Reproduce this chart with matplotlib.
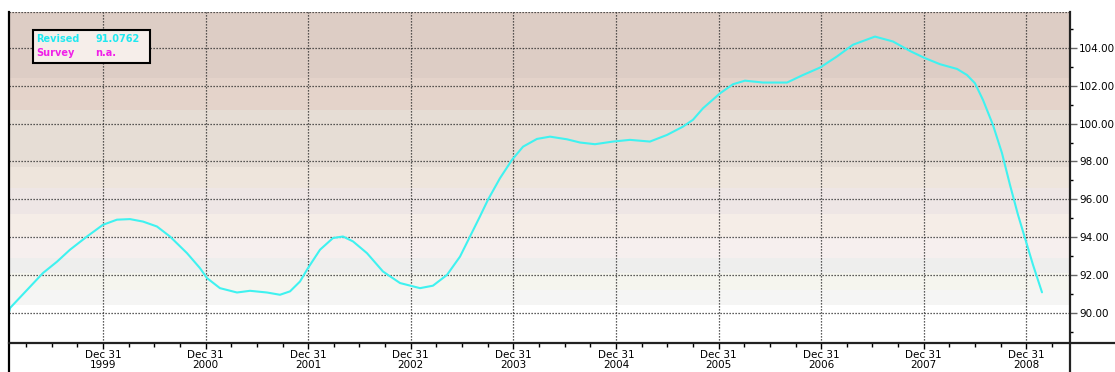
import matplotlib.pyplot as plt
from matplotlib.lines import Line2D
from matplotlib.patches import Rectangle

# Revised series, decimal years (Dec 31 of year Y sits at Y+1.0)
dates = [1999.085, 1999.094, 1999.259, 1999.415, 1999.552, 1999.678, 1999.844, 2000.000,
         2000.136, 2000.263, 2000.390, 2000.526, 2000.653, 2000.819, 2000.945, 2001.014,
         2001.140, 2001.306, 2001.433, 2001.598, 2001.725, 2001.823, 2001.920, 2001.998,
         2002.115, 2002.242, 2002.339, 2002.437, 2002.573, 2002.729, 2002.895, 2003.090,
         2003.216, 2003.353, 2003.480, 2003.577, 2003.674, 2003.752, 2003.869, 2003.986,
         2004.094, 2004.230, 2004.357, 2004.522, 2004.649, 2004.795, 2004.971, 2005.136,
         2005.331, 2005.497, 2005.653, 2005.750, 2005.848, 2006.014, 2006.140, 2006.257,
         2006.433, 2006.667, 2006.823, 2006.988, 2007.154, 2007.310, 2007.524, 2007.700,
         2007.865, 2008.012, 2008.158, 2008.324, 2008.421, 2008.499, 2008.577, 2008.674,
         2008.762, 2008.840, 2008.918, 2008.986, 2009.064, 2009.152]
revised = [90.05, 90.25, 91.20, 92.10, 92.70, 93.33, 94.03, 94.65,
           94.92, 94.95, 94.82, 94.56, 94.03, 93.15, 92.36, 91.83,
           91.30, 91.07, 91.16, 91.07, 90.95, 91.13, 91.65, 92.36,
           93.33, 93.95, 94.03, 93.77, 93.15, 92.18, 91.57, 91.30,
           91.43, 92.00, 92.97, 94.03, 95.09, 95.97, 97.11, 98.08,
           98.78, 99.19, 99.31, 99.17, 99.00, 98.91, 99.05, 99.14,
           99.05, 99.40, 99.84, 100.20, 100.81, 101.60, 102.08, 102.27,
           102.17, 102.17, 102.57, 102.96, 103.55, 104.17, 104.60, 104.34,
           103.84, 103.46, 103.14, 102.89, 102.57, 102.13, 101.25, 99.93,
           98.44, 96.76, 95.18, 93.95, 92.54, 91.08]

year_labels = ['1999', '2000', '2001', '2002', '2003', '2004', '2005', '2006', '2007', '2008']
year_ticks = [2000, 2001, 2002, 2003, 2004, 2005, 2006, 2007, 2008, 2009]
y_ticks = [90, 92, 94, 96, 98, 100, 102, 104]

# background bands (edges, colour)
band_edges = [88.0, 90.4, 91.2, 92.1, 92.9, 94.0, 95.2, 96.6, 97.7, 100.7, 102.4, 107]
band_colors = ['#ffffff', '#f5f5f4', '#f5f5ee', '#eeeeed', '#f6efee', '#f5ede7',
               '#eee6e5', '#eee5dc', '#e6ddd5', '#e4d3ca', '#ddcdc5']

W, H = 1115, 372
fig = plt.figure(figsize=(W / 100, H / 100), dpi=100)
fig.patch.set_facecolor('white')
ax = fig.add_axes([9 / W, (H - 343) / H, (1070 - 9) / W, (343 - 12) / H])

xmin, xmax = 1999.084, 2009.425
ymin, ymax = 88.4, 105.9
ax.set_xlim(xmin, xmax)
ax.set_ylim(ymin, ymax)

for i, c in enumerate(band_colors):
    ax.axhspan(band_edges[i], band_edges[i + 1], color=c, lw=0, zorder=0)

# dotted grid
for yv in y_ticks + [ymax]:
    ax.axhline(yv, color='#2a2a2a', lw=0.9, ls=(0, (1, 1.4)), zorder=1)
for xv in year_ticks:
    ax.axvline(xv, color='#2a2a2a', lw=0.9, ls=(0, (1, 1.4)), zorder=1)

ax.plot(dates, revised, color='#3ff2f0', lw=1.5, zorder=3,
        solid_joinstyle='round', solid_capstyle='round')

# spines drawn by hand so they run past the plot area like the original
for s in ['top', 'left', 'right', 'bottom']:
    ax.spines[s].set_visible(False)
fig.add_artist(Line2D([9 / W, 9 / W], [0, (H - 12) / H], color='black', lw=1.6))
fig.add_artist(Line2D([1070 / W, 1070 / W], [0, (H - 12) / H], color='#222222', lw=1.6))
fig.add_artist(Line2D([9 / W, 1], [(H - 343) / H] * 2, color='#222222', lw=1.6))

# x ticks
ax.set_xticks(year_ticks)
ax.set_xticklabels(['Dec 31\n' + y for y in year_labels], fontsize=7.5, linespacing=1.05)
minor_x = [t + q for t in range(1999, 2010) for q in (0.25, 0.5, 0.75)]
ax.set_xticks([m for m in minor_x if xmin < m < xmax], minor=True)
ax.tick_params(axis='x', which='major', length=4, width=1, pad=1, color='black')
ax.tick_params(axis='x', which='minor', length=3, width=1, color='black')

# y ticks on the right
ax.yaxis.tick_right()
ax.set_yticks(y_ticks)
ax.set_yticklabels(['%.2f' % v for v in y_ticks], fontsize=7.5)
ax.set_yticks([v for v in range(89, 106, 2)], minor=True)
ax.tick_params(axis='y', which='major', length=5, width=1, pad=1.5, color='#666666')
ax.tick_params(axis='y', which='minor', length=2, width=1, color='black')

# legend box
ax.add_patch(Rectangle(((33 - 9) / 1061, (343 - 63) / 331), 117 / 1061, 33 / 331,
                       transform=ax.transAxes, facecolor='#f6eeea', edgecolor='black',
                       lw=1.5, zorder=5))
legend_rows = [('Revised', '91.0762', '#20e8f0', 39), ('Survey', 'n.a.', '#f020e8', 53)]
for name, val, col, ypx in legend_rows:
    ax.text((36 - 9) / 1061, (343 - ypx) / 331, name, transform=ax.transAxes,
            color=col, fontsize=7, va='center', zorder=6, fontweight='bold')
    ax.text((95 - 9) / 1061, (343 - ypx) / 331, val, transform=ax.transAxes,
            color=col, fontsize=7, va='center', zorder=6, fontweight='bold')

fig.savefig('out.png', dpi=100, facecolor='white')
